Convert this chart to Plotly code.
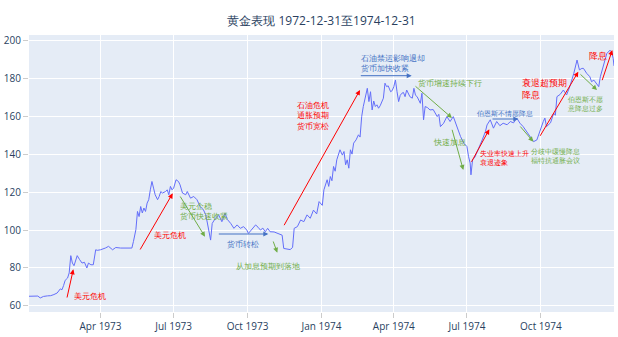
import plotly.graph_objects as go

# Gold price, 1973-1974
dates = [
    "1973-01-02", "1973-01-08", "1973-01-13", "1973-01-16", "1973-01-20", "1973-01-25",
    "1973-01-29", "1973-02-02", "1973-02-06", "1973-02-10", "1973-02-12", "1973-02-14",
    "1973-02-16", "1973-02-19", "1973-02-21", "1973-02-23", "1973-02-25", "1973-02-27",
    "1973-03-01", "1973-03-03", "1973-03-06", "1973-03-09", "1973-03-12", "1973-03-15",
    "1973-03-17", "1973-03-20", "1973-03-23", "1973-03-26", "1973-03-28", "1973-04-01",
    "1973-04-07", "1973-04-11", "1973-04-16", "1973-04-20", "1973-04-26", "1973-05-04",
    "1973-05-10", "1973-05-12", "1973-05-15", "1973-05-17", "1973-05-19", "1973-05-21",
    "1973-05-23", "1973-05-25", "1973-05-27", "1973-05-29", "1973-05-31", "1973-06-02",
    "1973-06-04", "1973-06-06", "1973-06-08", "1973-06-11", "1973-06-13", "1973-06-15",
    "1973-06-17", "1973-06-21", "1973-06-23", "1973-06-25", "1973-06-27", "1973-06-29",
    "1973-07-01", "1973-07-04", "1973-07-07", "1973-07-09", "1973-07-12", "1973-07-16",
    "1973-07-18", "1973-07-22", "1973-07-26", "1973-07-30", "1973-08-03", "1973-08-07",
    "1973-08-10", "1973-08-12", "1973-08-14", "1973-08-16", "1973-08-18", "1973-08-22",
    "1973-08-26", "1973-08-30", "1973-09-03", "1973-09-06", "1973-09-10", "1973-09-14",
    "1973-09-18", "1973-09-22", "1973-09-26", "1973-09-30", "1973-10-02", "1973-10-07",
    "1973-10-11", "1973-10-14", "1973-10-17", "1973-10-20", "1973-10-23", "1973-10-26",
    "1973-10-29", "1973-11-03", "1973-11-09", "1973-11-13", "1973-11-15", "1973-11-19",
    "1973-11-23", "1973-11-26", "1973-11-28", "1973-12-02", "1973-12-06", "1973-12-10",
    "1973-12-14", "1973-12-18", "1973-12-22", "1973-12-26", "1973-12-29", "1974-01-02",
    "1974-01-04", "1974-01-08", "1974-01-10", "1974-01-12", "1974-01-14", "1974-01-16",
    "1974-01-18", "1974-01-20", "1974-01-22", "1974-01-24", "1974-01-27", "1974-01-29",
    "1974-01-31", "1974-02-02", "1974-02-04", "1974-02-06", "1974-02-08", "1974-02-10",
    "1974-02-13", "1974-02-16", "1974-02-18", "1974-02-20", "1974-02-22", "1974-02-24",
    "1974-02-27", "1974-03-01", "1974-03-03", "1974-03-05", "1974-03-07", "1974-03-09",
    "1974-03-11", "1974-03-13", "1974-03-15", "1974-03-19", "1974-03-21", "1974-03-23",
    "1974-03-25", "1974-03-28", "1974-03-30", "1974-04-01", "1974-04-03", "1974-04-05",
    "1974-04-07", "1974-04-09", "1974-04-11", "1974-04-13", "1974-04-15", "1974-04-17",
    "1974-04-19", "1974-04-21", "1974-04-24", "1974-04-26", "1974-04-28", "1974-04-30",
    "1974-05-04", "1974-05-06", "1974-05-08", "1974-05-10", "1974-05-13", "1974-05-16",
    "1974-05-20", "1974-05-25", "1974-05-27", "1974-05-29", "1974-06-02", "1974-06-06",
    "1974-06-10", "1974-06-14", "1974-06-16", "1974-06-20", "1974-06-23", "1974-06-27",
    "1974-07-01", "1974-07-03", "1974-07-05", "1974-07-06", "1974-07-08", "1974-07-11",
    "1974-07-15", "1974-07-20", "1974-07-24", "1974-07-26", "1974-07-30", "1974-08-01",
    "1974-08-03", "1974-08-07", "1974-08-11", "1974-08-15", "1974-08-20", "1974-08-24",
    "1974-08-28", "1974-09-01", "1974-09-03", "1974-09-05", "1974-09-09", "1974-09-13",
    "1974-09-18", "1974-09-22", "1974-09-26", "1974-09-28", "1974-09-30", "1974-10-04",
    "1974-10-06", "1974-10-08", "1974-10-13", "1974-10-17", "1974-10-19", "1974-10-21",
    "1974-10-25", "1974-10-29", "1974-11-02", "1974-11-06", "1974-11-11", "1974-11-13",
    "1974-11-15", "1974-11-18", "1974-11-21", "1974-11-23", "1974-11-27", "1974-12-01",
    "1974-12-03", "1974-12-06", "1974-12-10", "1974-12-12", "1974-12-14", "1974-12-18",
    "1974-12-22", "1974-12-26", "1974-12-28", "1974-12-30", "1974-12-31",
]

prices = [
    65.1, 65.0, 65.2, 64.2, 65.0, 65.3,
    65.4, 66.0, 66.8, 69.0, 68.5, 70.7,
    73.5, 74.7, 77.4, 86.5, 82.6, 81.2,
    83.5, 86.5, 84.4, 82.6, 83.0, 80.0,
    82.6, 81.7, 81.7, 89.6, 89.3, 89.6,
    90.5, 91.4, 89.6, 90.8, 90.5, 90.5,
    90.5, 94.0, 100.2, 109.8, 107.1, 112.4,
    109.0, 111.6, 109.8, 114.2, 116.0, 121.2,
    125.6, 122.1, 118.6, 116.0, 117.7, 120.3,
    119.5, 120.3, 121.2, 118.6, 123.0, 121.2,
    122.1, 126.5, 125.6, 123.8, 119.5, 118.6,
    120.3, 116.8, 117.7, 116.0, 112.4, 110.7,
    108.0, 103.7, 98.0, 94.7, 103.5, 106.2,
    108.0, 104.4, 108.8, 105.5, 103.5, 100.9,
    102.7, 100.9, 101.8, 100.0, 98.2, 100.9,
    102.7, 101.5, 100.0, 101.0, 99.1, 100.9,
    99.1, 99.0, 98.2, 97.3, 90.3, 90.0,
    89.7, 90.8, 100.9, 101.8, 105.3, 104.4,
    108.0, 106.2, 110.5, 108.5, 115.0, 113.0,
    121.2, 126.5, 123.0, 128.2, 126.0, 133.5,
    131.0, 137.0, 140.5, 142.3, 139.5, 141.4,
    134.4, 137.0, 132.6, 142.3, 140.0, 145.8,
    147.5, 150.2, 149.0, 159.8, 165.1, 169.5,
    174.7, 167.7, 172.9, 163.3, 168.0, 165.1,
    166.0, 164.2, 165.5, 169.5, 177.4, 175.6,
    176.0, 172.9, 173.5, 175.6, 179.1, 172.9,
    167.7, 171.0, 172.1, 172.5, 170.3, 173.8,
    171.5, 170.3, 169.5, 174.7, 171.0, 170.3,
    166.8, 172.1, 158.1, 165.1, 164.5, 163.3,
    163.5, 159.8, 161.0, 154.5, 156.3, 159.8,
    157.2, 159.8, 157.5, 152.8, 149.3, 145.8,
    144.0, 138.7, 135.3, 129.1, 137.0, 138.5,
    142.3, 147.5, 151.9, 155.4, 158.1, 156.0,
    153.7, 157.2, 155.0, 156.3, 155.5, 157.2,
    156.5, 159.0, 157.5, 156.3, 154.5, 151.9,
    149.3, 146.6, 147.5, 150.2, 152.8, 157.2,
    159.0, 154.5, 156.5, 161.6, 160.5, 170.3,
    171.5, 173.8, 171.2, 175.6, 182.6, 186.9,
    189.6, 184.4, 185.2, 185.2, 182.6, 180.8,
    178.2, 179.0, 176.5, 175.6, 180.8, 186.9,
    193.0, 194.8, 193.9, 190.4, 186.5,
]

y_ticks = [60, 80, 100, 120, 140, 160, 180, 200]

RED = "#FF0000"
GREEN = "#70AD47"
BLUE = "#4472C4"

# plot area in pixels (left, top, right, bottom)
L, T, R, B = 29, 35, 614, 312


def px(x):
    return (x - L) / (R - L)


def py(y):
    return (B - y) / (B - T)


fig = go.Figure()
fig.add_trace(go.Scatter(
    x=dates, y=prices, mode="lines",
    line=dict(color="#636efa", width=1),
    showlegend=False,
))

# (tail x, tail y, head x, head y, colour) in pixels
arrows = [
    (66.7, 299, 73.3, 269.3, RED),
    (139.3, 251, 172.7, 193.3, RED),
    (179.3, 195, 205, 236.7, GREEN),
    (217.3, 234, 268.3, 234, BLUE),
    (272.7, 240, 277.3, 252.7, GREEN),
    (283.3, 226.7, 360, 90, RED),
    (359.3, 75.7, 411.7, 75.7, BLUE),
    (414, 85, 452, 118, GREEN),
    (451.7, 128.3, 463.3, 170, GREEN),
    (470.7, 163.3, 489.3, 129.3, RED),
    (491, 119, 518.3, 119, BLUE),
    (519, 125, 533.3, 141.7, GREEN),
    (539.3, 137.3, 578.3, 71.7, RED),
    (579, 73, 597, 90, GREEN),
    (601.7, 81.7, 612.3, 50, RED),
]

# (text, x, y, colour, size, anchor) in pixels
labels = [
    ("美元危机", 89.5, 295, RED, 8, "center"),
    ("美元危机", 170, 234, RED, 8, "center"),
    ("美元企稳<br>货币快速收紧", 177.7, 210, GREEN, 8, "left"),
    ("货币转松", 242.5, 243.3, BLUE, 8, "center"),
    ("从加息预期到落地", 267.5, 265.7, GREEN, 8, "center"),
    ("石油危机<br>通胀预期<br>货币宽松", 313.3, 115, RED, 8, "center"),
    ("石油禁运影响退却<br>货币加快收紧", 359.3, 62.5, BLUE, 8, "left"),
    ("货币增速持续下行", 450, 82.7, GREEN, 8, "center"),
    ("快速加息", 449.7, 141, GREEN, 8, "center"),
    ("失业率快速上升<br>衰退迹象", 477.7, 158, RED, 7, "left"),
    ("伯恩斯不情愿降息", 504.3, 113.5, BLUE, 7, "center"),
    ("分歧中缓慢降息<br>福特抗通胀会议", 529.3, 155.5, GREEN, 7, "left"),
    ("衰退超预期<br>降息", 520, 88.3, RED, 9, "left"),
    ("伯恩斯不愿<br>意降息过多", 585, 104, GREEN, 7, "center"),
    ("降息", 597.5, 55, RED, 9, "center"),
]

annotations = []
for tx, ty, hx, hy, col in arrows:
    annotations.append(dict(
        xref="paper", yref="paper", x=px(hx), y=py(hy),
        ax=tx - hx, ay=ty - hy, axref="pixel", ayref="pixel",
        text="", showarrow=True, arrowhead=2, arrowsize=1,
        arrowwidth=1, arrowcolor=col, standoff=0, startstandoff=0,
    ))
for text, x, y, col, size, anchor in labels:
    annotations.append(dict(
        xref="paper", yref="paper", x=px(x), y=py(y),
        xanchor=anchor, yanchor="middle", align=anchor,
        text=text, showarrow=False,
        font=dict(color=col, size=size),
    ))

fig.update_layout(
    width=618, height=337,
    template="plotly",
    margin=dict(l=L, r=618 - R, t=T, b=337 - B),
    title=dict(
        text="黄金表现 1972-12-31至1974-12-31",
        x=0.5, xref="paper", xanchor="center",
        y=1 - 20.5 / 337, yref="container", yanchor="middle",
        font=dict(size=12, color="#2a3f5f"),
    ),
    font=dict(size=10),
    xaxis=dict(
        type="date", range=["1973-01-02", "1974-12-31"],
        dtick="M3", tick0="1973-01-01", tickformat="%b %Y",
        ticks="outside", ticklen=5, tickcolor="#cccccc",
        tickfont=dict(size=10, color="#2a3f5f"),
    ),
    yaxis=dict(
        range=[56.8, 202.8], tickvals=y_ticks,
        ticks="outside", ticklen=5, tickcolor="#cccccc",
        tickfont=dict(size=10, color="#2a3f5f"),
    ),
    annotations=annotations,
)

fig.write_html("out.html")
